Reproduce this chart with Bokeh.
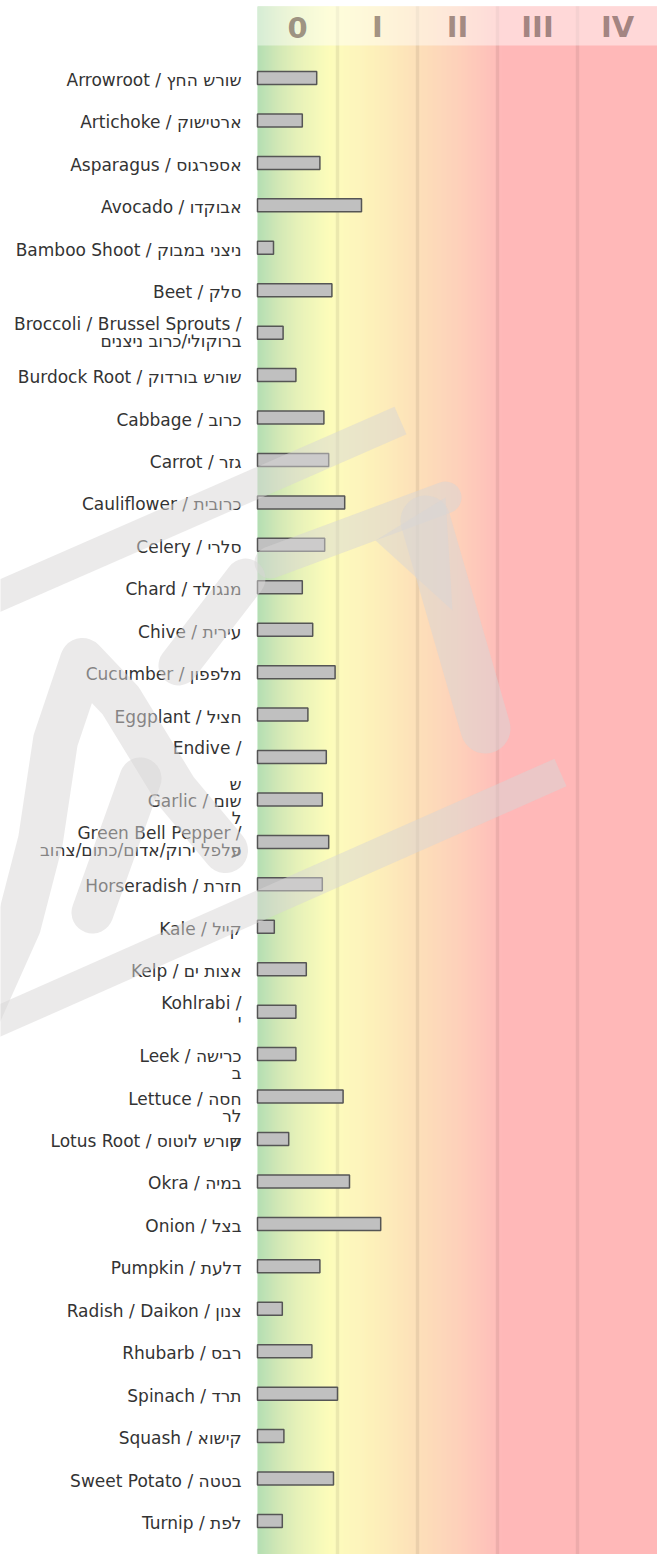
import numpy as np
from bokeh.plotting import figure
from bokeh.models import ColumnDataSource, Range1d
from bokeh.embed import file_html
from bokeh.resources import INLINE
from bokeh.core.properties import value

# ---------------- data ----------------
labels = [
    "Arrowroot / שורש החץ",
    "Artichoke / ארטישוק",
    "Asparagus / אספרגוס",
    "Avocado / אבוקדו",
    "Bamboo Shoot / ניצני במבוק",
    "Beet / סלק",
    "Broccoli / Brussel Sprouts /\nברוקולי/כרוב ניצנים",
    "Burdock Root / שורש בורדוק",
    "Cabbage / כרוב",
    "Carrot / גזר",
    "Cauliflower / כרובית",
    "Celery / סלרי",
    "Chard / מנגולד",
    "Chive / עירית",
    "Cucumber / מלפפון",
    "Eggplant / חציל",
    "Endive /\n",
    "Garlic / שום",
    "Green Bell Pepper /\nפלפל ירוק/אדום/כתום/צהוב",
    "Horseradish / חזרת",
    "Kale / קייל",
    "Kelp / אצות ים",
    "Kohlrabi /\nי",
    "Leek / כרישה",
    "Lettuce / חסה",
    "Lotus Root / שורש לוטוס",
    "Okra / במיה",
    "Onion / בצל",
    "Pumpkin / דלעת",
    "Radish / Daikon / צנון",
    "Rhubarb / רבס",
    "Spinach / תרד",
    "Squash / קישוא",
    "Sweet Potato / בטטה",
    "Turnip / לפת",
]

values = [0.74, 0.56, 0.78, 1.30, 0.20, 0.93, 0.32, 0.48, 0.83, 0.89,
          1.09, 0.84, 0.56, 0.69, 0.97, 0.63, 0.86, 0.81, 0.89, 0.81,
          0.21, 0.61, 0.48, 0.48, 1.07, 0.39, 1.15, 1.54, 0.78, 0.31,
          0.68, 1.00, 0.33, 0.95, 0.31]

# stray wrapped fragments: (text, row, line shift)
stray_text = ["ש", "ל", "ע", "ב", "לר", "ק"]
stray_row = [17, 17, 18, 23, 24, 25]
stray_shift = [-1, 1, 0, 1, 1, 0]

zone_labels = ["0", "I", "II", "III", "IV"]

# ---------------- layout ----------------
ROW_PX = 42.44
FIRST_PX = 77.5      # centre of first row (page px)
FIG_H = 1554
FIG_W = 657
LEFT_PX = 257
ZONE_PX = 80.0
LINE_PX = 17
BG_TOP = 6
HEAD_BOT = 45

y_top = -FIRST_PX / ROW_PX
y_bot = y_top + FIG_H / ROW_PX
x_left = -LEFT_PX / ZONE_PX
x_right = x_left + FIG_W / ZONE_PX


def px_x(px):
    return x_left + px / ZONE_PX


def px_y(py):
    return y_top + py / ROW_PX


p = figure(width=FIG_W, height=FIG_H,
           x_range=Range1d(x_left, x_right), y_range=Range1d(y_bot, y_top),
           output_backend="svg", toolbar_location=None, min_border=0)
p.axis.visible = False
p.grid.visible = False
p.outline_line_color = None
p.background_fill_color = "white"
p.border_fill_color = "white"

# background gradient
stops_x = [0.0, 0.25, 0.5, 0.9, 1.0, 1.5, 2.0, 2.5, 2.95, 3.05, 5.0]
stops_c = [(172, 219, 172), (205, 230, 175), (228, 240, 178), (253, 253, 180),
           (254, 251, 183), (253, 238, 180), (253, 221, 178), (254, 205, 180),
           (255, 186, 180), (255, 178, 178), (255, 177, 177)]
n = 400
xs = np.linspace(0, 5, n + 1)
cols = []
for xm in (xs[:-1] + xs[1:]) / 2:
    r = np.interp(xm, stops_x, [c[0] for c in stops_c])
    g = np.interp(xm, stops_x, [c[1] for c in stops_c])
    b = np.interp(xm, stops_x, [c[2] for c in stops_c])
    cols.append("#%02x%02x%02x" % (int(r), int(g), int(b)))
p.quad(left=xs[:-1], right=xs[1:] + 0.004, top=px_y(BG_TOP), bottom=y_bot,
       fill_color=cols, line_color=None)

# zone divider lines
p.segment(x0=[1, 2, 3, 4], x1=[1, 2, 3, 4], y0=px_y(BG_TOP), y1=y_bot,
          line_color="black", line_alpha=0.07, line_width=3.5)

# header band
p.quad(left=0, right=5, top=px_y(BG_TOP), bottom=px_y(HEAD_BOT), fill_color="white",
       fill_alpha=0.45, line_color=None)
p.text(x=[i + 0.5 for i in range(5)], y=px_y(26.5), text=zone_labels,
       text_font=value("DejaVu Sans"), text_font_style="bold",
       text_font_size="29px", text_color="#553c37", text_alpha=0.55,
       text_align="center", text_baseline="middle")

# bars
rows = list(range(len(labels)))
p.hbar(y=rows, left=0, right=values, height=13 / ROW_PX,
       fill_color="#c0c0c0", line_color="#555555", line_width=1.5)

# labels
t_y, t_off, t_txt = [], [], []
last_base = []
for i, lab in enumerate(labels):
    parts = lab.split("\n")
    if len(parts) == 1:
        t_y.append(i); t_off.append(2); t_txt.append(parts[0])
        last_base.append(2)
    else:
        t_y += [i, i]; t_off += [-9, 8]; t_txt += parts
        last_base.append(8)
for s, r, sh in zip(stray_text, stray_row, stray_shift):
    t_y.append(r); t_off.append(last_base[r] + sh * LINE_PX); t_txt.append(s)

src = ColumnDataSource(dict(y=t_y, off=t_off, txt=t_txt))
p.text(x=0, y="y", text="txt", y_offset="off", x_offset=-16, source=src,
       text_font=value("DejaVu Sans"), text_font_size="17px",
       text_color="#333333", text_align="right", text_baseline="alphabetic")

# watermark (decorative)
wm_color = "#d8d5d5"
wm_alpha = 0.5


def wl(pts, w, cap="round"):
    p.line(x=[px_x(a) for a, b in pts], y=[px_y(b) for a, b in pts],
           line_color=wm_color, line_alpha=wm_alpha, line_width=w,
           line_cap=cap, line_join="round")


wl([(-30, 608), (400, 420)], 30, "butt")
wl([(-30, 1033), (560, 772)], 30, "butt")
wl([(270, 562), (445, 497)], 32)
wl([(425, 520), (485, 728)], 50)
p.patch(x=[px_x(a) for a in [375, 445, 452]], y=[px_y(b) for b in [540, 497, 610]],
        fill_color=wm_color, fill_alpha=wm_alpha, line_color=None)
wl([(-20, 1010), (18, 925), (40, 840), (55, 740), (82, 660), (120, 700), (175, 790), (225, 850)], 45)
wl([(140, 778), (92, 912)], 42)
wl([(178, 665), (245, 578)], 40)

open("out.html", "w").write(file_html(p, INLINE))
